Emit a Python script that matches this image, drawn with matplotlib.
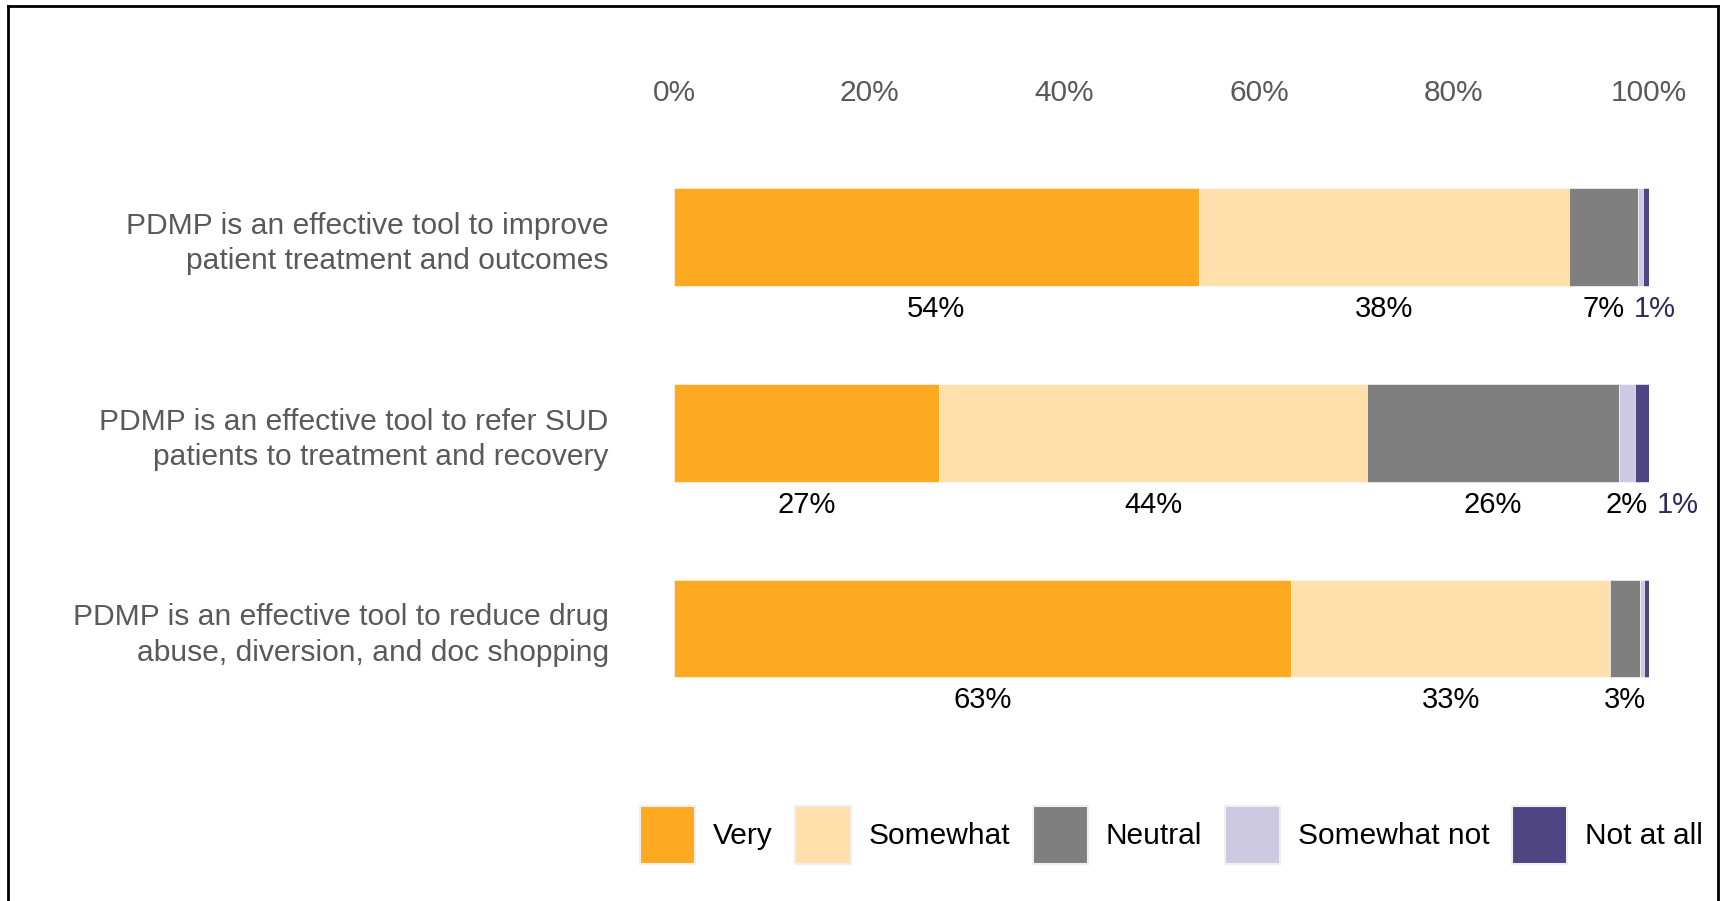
import matplotlib
matplotlib.use("Agg")
import matplotlib.pyplot as plt
from matplotlib.lines import Line2D
from matplotlib.patches import Patch
import numpy as np

# ── Dados ──────────────────────────────────────────────────────────────────────
STATEMENTS = [
    "PDMP is an effective tool to improve\npatient treatment and outcomes",
    "PDMP is an effective tool to refer SUD\npatients to treatment and recovery",
    "PDMP is an effective tool to reduce drug\nabuse, diversion, and doc shopping",
]
RESPONSES = ["Very", "Somewhat", "Neutral", "Somewhat not", "Not at all"]

very         = [53.8, 27.2, 63.3]
somewhat     = [38.0, 43.9, 32.7]
neutral      = [7.1, 25.8, 3.1]
somewhat_not = [0.5, 1.7, 0.4]
not_at_all   = [0.6, 1.4, 0.5]

TICKS = [0, 20, 40, 60, 80, 100]

# ── Estilo ─────────────────────────────────────────────────────────────────────
COLORS = ["#FEA922", "#FFDFAC", "#7F7F7F", "#CDC9E2", "#4F4583"]
LABEL_COLORS = ["black", "black", "black", "black", "#2E2A5C"]
GREY_TXT = "#595959"
FS = 21
plt.rcParams["font.family"] = ["Liberation Sans", "DejaVu Sans"]

W, H = 1725, 901
fig = plt.figure(figsize=(W / 100, H / 100), dpi=100)
fig.patch.set_facecolor("white")

# eixo das barras posicionado em pixels
x0, x1 = 674, 1649
y_top, y_bot = 119.6, 745.9
ax = fig.add_axes([x0 / W, 1 - y_bot / H, (x1 - x0) / W, (y_bot - y_top) / H])

series = np.array([very, somewhat, neutral, somewhat_not, not_at_all])
ypos = np.arange(len(STATEMENTS))
bar_h = 0.5
min_gap = 5.2  # distância mínima entre rótulos vizinhos (em % do eixo)

left = np.zeros(len(STATEMENTS))
label_x = [[] for _ in STATEMENTS]
for k, (name, vals) in enumerate(zip(RESPONSES, series)):
    ax.barh(ypos, vals, left=left, height=bar_h, color=COLORS[k],
            edgecolor="white", linewidth=0.4, label=name)
    for i, v in enumerate(vals):
        txt = f"{v:.0f}"
        if int(txt) < 1:
            continue
        cx = left[i] + v / 2
        if label_x[i] and cx - label_x[i][-1] < min_gap:
            cx = label_x[i][-1] + min_gap
        label_x[i].append(cx)
        ax.annotate(f"{txt}%", xy=(cx, ypos[i] + bar_h / 2), xytext=(0, -16.5),
                    textcoords="offset points", ha="center", va="center",
                    fontsize=FS, color=LABEL_COLORS[k], annotation_clip=False)
    left += vals

ax.set_xlim(0, 100)
ax.set_ylim(len(STATEMENTS) - 1 + 0.6, -0.6)
ax.set_xticks(TICKS)
ax.set_xticklabels([f"{t}%" for t in TICKS], fontsize=21.5, color=GREY_TXT)
ax.xaxis.tick_top()
ax.tick_params(axis="x", length=0, pad=9)
ax.set_yticks(ypos)
ax.set_yticklabels(STATEMENTS, fontsize=21.6, color=GREY_TXT, linespacing=1.32)
ax.tick_params(axis="y", length=0, pad=47)
for s in ax.spines.values():
    s.set_visible(False)

# legenda
handles = [Patch(facecolor=c, edgecolor="#EFEFEF", linewidth=1.5) for c in COLORS]
fig.legend(handles, RESPONSES, loc="center", bbox_to_anchor=(1171.5 / W, 1 - 835 / H),
           ncol=5, frameon=False, fontsize=21.5, handlelength=1.85, handleheight=2.6,
           handletextpad=0.6, columnspacing=0.75, borderaxespad=0)

# moldura
for xs, ys in [((8, 8), (6, 905)), ((8, 1718), (6, 6)), ((1718, 1718), (6, 905))]:
    fig.add_artist(Line2D([x / W for x in xs], [1 - y / H for y in ys],
                          transform=fig.transFigure, color="black", linewidth=2))

fig.savefig("out.png", dpi=100)
